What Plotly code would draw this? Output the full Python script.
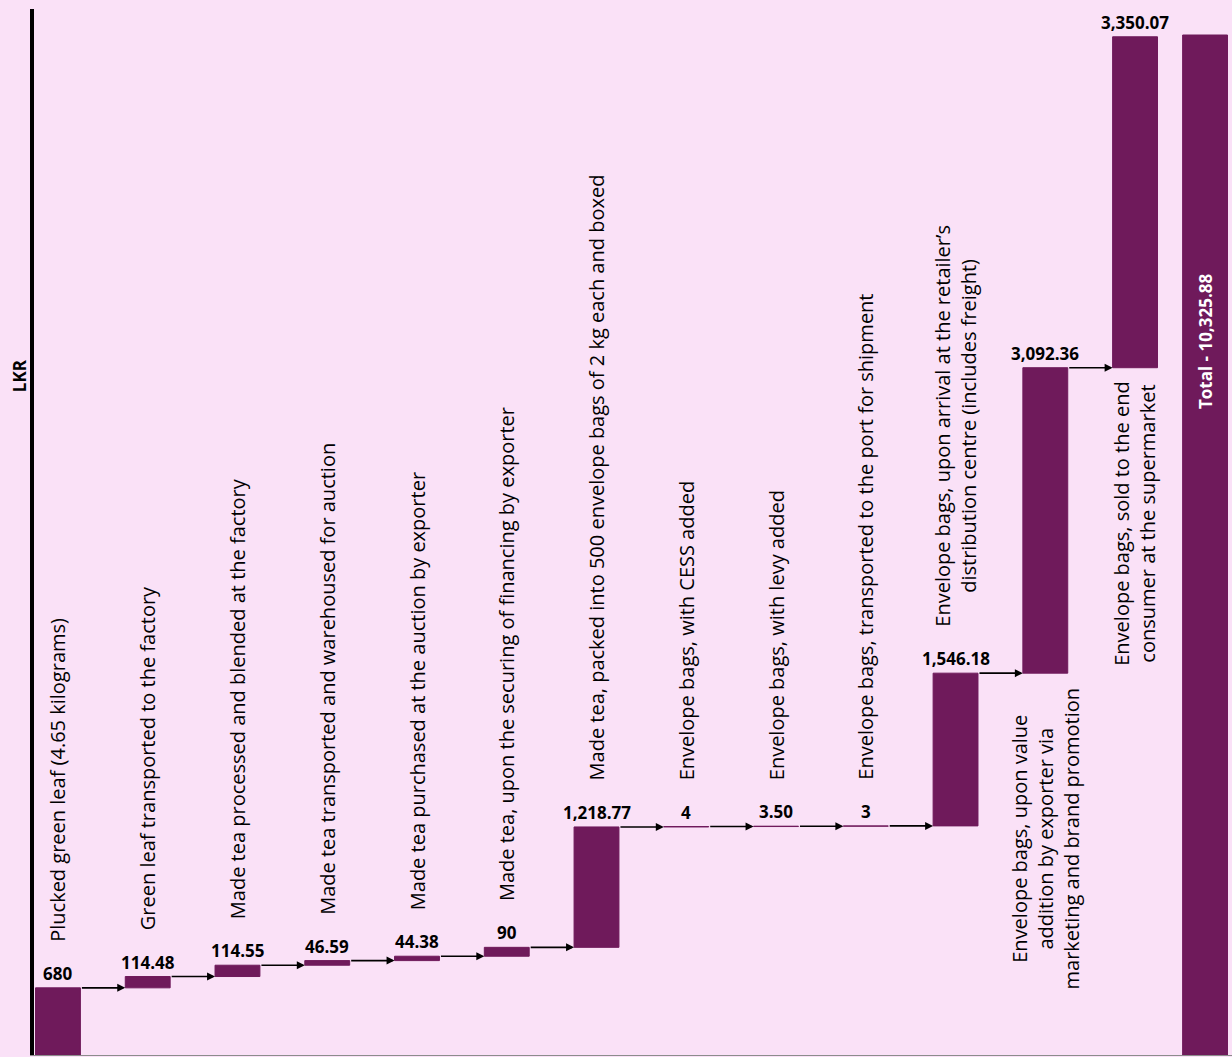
import numpy as np
import plotly.graph_objects as go

# Cost build-up of a box of tea, step by step (LKR)
steps = [
    "Plucked green leaf (4.65 kilograms)",
    "Green leaf transported to the factory",
    "Made tea processed and blended at the factory",
    "Made tea transported and warehoused for auction",
    "Made tea purchased at the auction by exporter",
    "Made tea, upon the securing of financing by exporter",
    "Made tea, packed into 500 envelope bags of 2 kg each and boxed",
    "Envelope bags, with CESS added",
    "Envelope bags, with levy added",
    "Envelope bags, transported to the port for shipment",
    "Envelope bags, upon arrival at the retailer\u2019s<br>distribution centre (includes freight)",
    "Envelope bags, upon value<br>addition by exporter via<br>marketing and brand promotion",
    "Envelope bags, sold to the end<br>consumer at the supermarket",
]
values = [680, 114.48, 114.55, 46.59, 44.38, 90, 1218.77, 4, 3.50, 3,
          1546.18, 3092.36, 3350.07]
total_value = 10325.88
total_name = "Total"
axis_title = "LKR"

BG = "#FAE1F7"
BAR = "#6F1A5B"
FONT = "Open Sans"

vals = np.array(values, dtype=float)
tops = np.cumsum(vals)
bases = tops - vals
xs = np.arange(len(vals), dtype=float)
total_x = len(vals) - 0.22
bar_w = 0.5
below = {len(vals) - 2, len(vals) - 1}   # tall final steps carry their caption underneath


def fmt(v):
    return f"{v:,.0f}" if float(v).is_integer() else f"{v:,.2f}"


fig = go.Figure()
fig.add_trace(go.Bar(
    x=xs, y=vals, base=bases, width=bar_w,
    marker=dict(color=BAR, line=dict(color=BAR, width=1)),
    hoverinfo="skip",
))
fig.add_trace(go.Bar(
    x=[total_x], y=[total_value], base=[0], width=bar_w,
    marker=dict(color=BAR, line=dict(color=BAR, width=1)),
    hoverinfo="skip",
))

ann = []
for i, (x, v, top, base, name) in enumerate(zip(xs, vals, tops, bases, steps)):
    # value on top of each step
    ann.append(dict(x=x, y=top, xref="x", yref="y", text=f"<b>{fmt(v)}</b>",
                    showarrow=False, yanchor="bottom", yshift=1,
                    font=dict(family=FONT, size=17, color="black")))
    # rotated step caption
    if i in below:
        ann.append(dict(x=x, y=base, xref="x", yref="y", text=name, textangle=-90,
                        showarrow=False, yanchor="top", yshift=-12, align="center",
                        font=dict(family=FONT, size=20, color="black")))
    else:
        ann.append(dict(x=x, y=top, xref="x", yref="y", text=name, textangle=-90,
                        showarrow=False, yanchor="bottom", yshift=44, align="center",
                        font=dict(family=FONT, size=20, color="black")))

# connector arrows between consecutive steps
for i in range(len(vals) - 1):
    ann.append(dict(x=xs[i + 1] - bar_w / 2, y=tops[i], xref="x", yref="y",
                    ax=xs[i] + bar_w / 2, ay=tops[i], axref="x", ayref="y",
                    text="", showarrow=True, arrowhead=2, arrowsize=1,
                    arrowwidth=1.6, arrowcolor="black", standoff=0, startstandoff=0))

# total caption inside the total bar
ann.append(dict(x=total_x, y=total_value * 0.7, xref="x", yref="y",
                text=f"<b>{total_name} - {fmt(total_value)}</b>", textangle=-90,
                showarrow=False, font=dict(family=FONT, size=17, color="white")))

# axis title
ann.append(dict(x=0, y=0.649, xref="paper", yref="paper", text=f"<b>{axis_title}</b>",
                textangle=-90, showarrow=False, xanchor="center", xshift=-15,
                font=dict(family=FONT, size=17, color="black")))

fig.update_layout(
    width=1232, height=1057,
    margin=dict(l=34, r=0, t=9, b=2),
    paper_bgcolor=BG, plot_bgcolor=BG,
    showlegend=False, barmode="overlay",
    annotations=ann,
    xaxis=dict(range=[-0.267, 13.08], showticklabels=False, ticks="", showgrid=False,
               zeroline=False, showline=True, linecolor="#8c8c8c", linewidth=1,
               fixedrange=True),
    yaxis=dict(range=[0, total_value * 1.0255], showticklabels=False, ticks="",
               showgrid=False, zeroline=False, showline=True, linecolor="black",
               linewidth=4, fixedrange=True),
)

fig.write_html("out.html", config={"displayModeBar": False})
